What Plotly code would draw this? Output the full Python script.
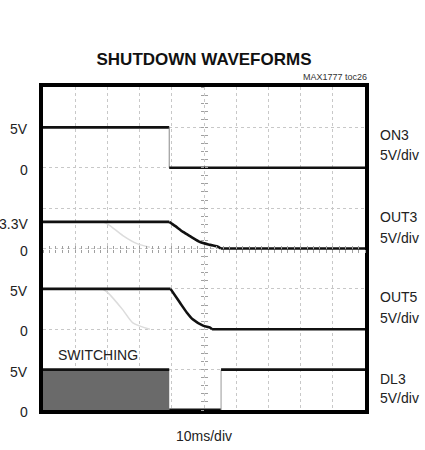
import plotly.graph_objects as go

# ---- data (time in ms, voltage in V) ----
on3_time = [0, 39.2, 39.2, 100]
on3_volts = [5, 5, 0, 0]

out3_time = [0, 39.2, 41.0, 43.5, 46.0, 48.8, 51.9, 54.5, 55.2, 100]
out3_volts = [3.3, 3.3, 2.8, 2.05, 1.45, 0.8, 0.45, 0.2, 0, 0]

out5_time = [0, 39.6, 42.5, 44.7, 46.6, 49.7, 51.9, 52.5, 100]
out5_volts = [5, 5, 3.3, 2.05, 1.2, 0.45, 0.2, 0, 0]

ghost3_time = [18.5, 20.2, 24.8, 29.2, 33.2]
ghost3_volts = [3.3, 3.0, 1.6, 0.6, 0.15]
ghost5_time = [18.5, 20.2, 24.8, 27.9, 33.2]
ghost5_volts = [5, 4.5, 2.4, 0.8, 0]

dl3_time = [0, 39.2, 39.2, 55.3, 55.3, 100]
dl3_volts = [5, 5, 0, 0, 5, 5]

left_labels = {"y4": [("5V", 5), ("0", 0)],
               "y3": [("3.3V", 3.3), ("0", 0)],
               "y2": [("5V", 5), ("0", 0)],
               "y": [("5V", 5), ("0", 0)]}
channel_names = ["ON3", "OUT3", "OUT5", "DL3"]
channel_scales = ["5V/div", "5V/div", "5V/div", "5V/div"]

FONT = "Liberation Sans, Arial, sans-serif"
INK = "#111111"

fig = go.Figure()

def seg(xs, ys, yaxis, color=INK, width=2.6, fill=None, fillcolor=None, shape="linear"):
    fig.add_trace(go.Scatter(x=xs, y=ys, yaxis=yaxis, mode="lines",
                             line=dict(color=color, width=width, shape=shape, smoothing=0.7),
                             fill=fill, fillcolor=fillcolor,
                             hoverinfo="skip", showlegend=False))

# ghosts (faint)
seg(ghost3_time, ghost3_volts, "y3", color="#dcdcdc", width=1.5, shape="spline")
seg(ghost5_time, ghost5_volts, "y2", color="#dcdcdc", width=1.5, shape="spline")

# ON3
seg(on3_time[:2], on3_volts[:2], "y4")
seg(on3_time[1:3], on3_volts[1:3], "y4", color="#888888", width=1)
seg(on3_time[2:], on3_volts[2:], "y4")

# OUT3: flat, decay, flat
seg(out3_time[:2], out3_volts[:2], "y3")
seg(out3_time[1:9], out3_volts[1:9], "y3", shape="spline")
seg(out3_time[8:], out3_volts[8:], "y3")

# OUT5: flat, decay, flat
seg(out5_time[:2], out5_volts[:2], "y2")
seg(out5_time[1:8], out5_volts[1:8], "y2", shape="spline")
seg(out5_time[7:], out5_volts[7:], "y2")

# DL3
seg(dl3_time[:2], dl3_volts[:2], "y", fill="tozeroy", fillcolor="#6a6a6a")
seg(dl3_time[2:4], dl3_volts[2:4], "y", width=3)
seg(dl3_time[3:5], dl3_volts[3:5], "y", color="#999999", width=1)
seg(dl3_time[4:], dl3_volts[4:], "y")

# graticule center ticks (dummy traces to keep axes alive)
fig.add_trace(go.Scatter(x=[None], y=[None], xaxis="x2", showlegend=False, hoverinfo="skip"))
fig.add_trace(go.Scatter(x=[None], y=[None], xaxis="x3", showlegend=False, hoverinfo="skip"))
fig.add_trace(go.Scatter(x=[None], y=[None], yaxis="y5", showlegend=False, hoverinfo="skip"))
fig.add_trace(go.Scatter(x=[None], y=[None], yaxis="y6", showlegend=False, hoverinfo="skip"))

grid = dict(showgrid=True, gridcolor="#c8c8c8", griddash="dot", gridwidth=1,
            zeroline=False, showticklabels=False, ticks="")
frame = dict(showline=True, linecolor="black", linewidth=4, mirror=True)
hidden = dict(visible=False, showgrid=False, zeroline=False)
ctick = dict(showgrid=False, zeroline=False, showticklabels=False, showline=False,
             ticklen=3, tickcolor="#a0a0a0", tickwidth=1, dtick=2)

annotations = []
for axis, items in left_labels.items():
    for text, v in items:
        annotations.append(dict(text=text, xref="paper", x=0, xanchor="right", xshift=-13,
                                yref=axis, y=v, yanchor="middle", yshift=-2, showarrow=False,
                                font=dict(family=FONT, size=14, color="#222")))

name_pos = [6.81, 4.77, 2.80, 0.78]
scale_pos = [6.32, 4.26, 2.29, 0.29]
for name, sc, py, ps in zip(channel_names, channel_scales, name_pos, scale_pos):
    annotations.append(dict(text=name, xref="paper", x=1, xanchor="left", xshift=13,
                            yref="paper", y=py / 8, yanchor="middle", showarrow=False,
                            font=dict(family=FONT, size=14, color="#222")))
    annotations.append(dict(text=sc, xref="paper", x=1, xanchor="left", xshift=13,
                            yref="paper", y=ps / 8, yanchor="middle", showarrow=False,
                            font=dict(family=FONT, size=14, color="#222")))

annotations += [
    dict(text="MAX1777 toc26", xref="paper", x=1, xanchor="right", xshift=4,
         yref="paper", y=1, yanchor="middle", yshift=10, showarrow=False,
         font=dict(family=FONT, size=9, color="#333")),
    dict(text="SWITCHING", xref="x", x=17, yref="y", y=6.8, showarrow=False,
         font=dict(family=FONT, size=14, color="#222")),
    dict(text="10ms/div", xref="paper", x=0.5, yref="paper", y=0, yanchor="middle",
         yshift=-26, showarrow=False, font=dict(family=FONT, size=14, color="#222")),
]

fig.update_layout(
    width=425, height=450,
    margin=dict(l=43, r=60, t=87, b=40),
    paper_bgcolor="white", plot_bgcolor="white",
    title=dict(text="<b>SHUTDOWN WAVEFORMS</b>", x=0.5, xref="paper", xanchor="center",
               y=1 - 59 / 450, yanchor="middle",
               font=dict(family=FONT, size=17, color="#111")),
    xaxis=dict(range=[0, 100], dtick=10, **grid, **frame),
    yaxis=dict(range=[0, 40], dtick=5, **grid, **frame),
    yaxis2=dict(range=[-10, 30], overlaying="y", **hidden),
    yaxis3=dict(range=[-20, 20], overlaying="y", **hidden),
    yaxis4=dict(range=[-30, 10], overlaying="y", **hidden),
    xaxis2=dict(range=[0, 100], overlaying="x", anchor="free", position=0.5,
                ticks="outside", **ctick),
    xaxis3=dict(range=[0, 100], overlaying="x", anchor="free", position=0.5,
                ticks="inside", **ctick),
    yaxis5=dict(range=[0, 40], overlaying="y", anchor="free", position=0.5,
                ticks="outside", **{**ctick, "dtick": 1}),
    yaxis6=dict(range=[0, 40], overlaying="y", anchor="free", position=0.5,
                ticks="inside", **{**ctick, "dtick": 1}),
    annotations=annotations,
    showlegend=False,
)

fig.write_html("out.html", config={"displayModeBar": False},
               post_script="document.body.style.margin='0';document.body.style.padding='0';")
